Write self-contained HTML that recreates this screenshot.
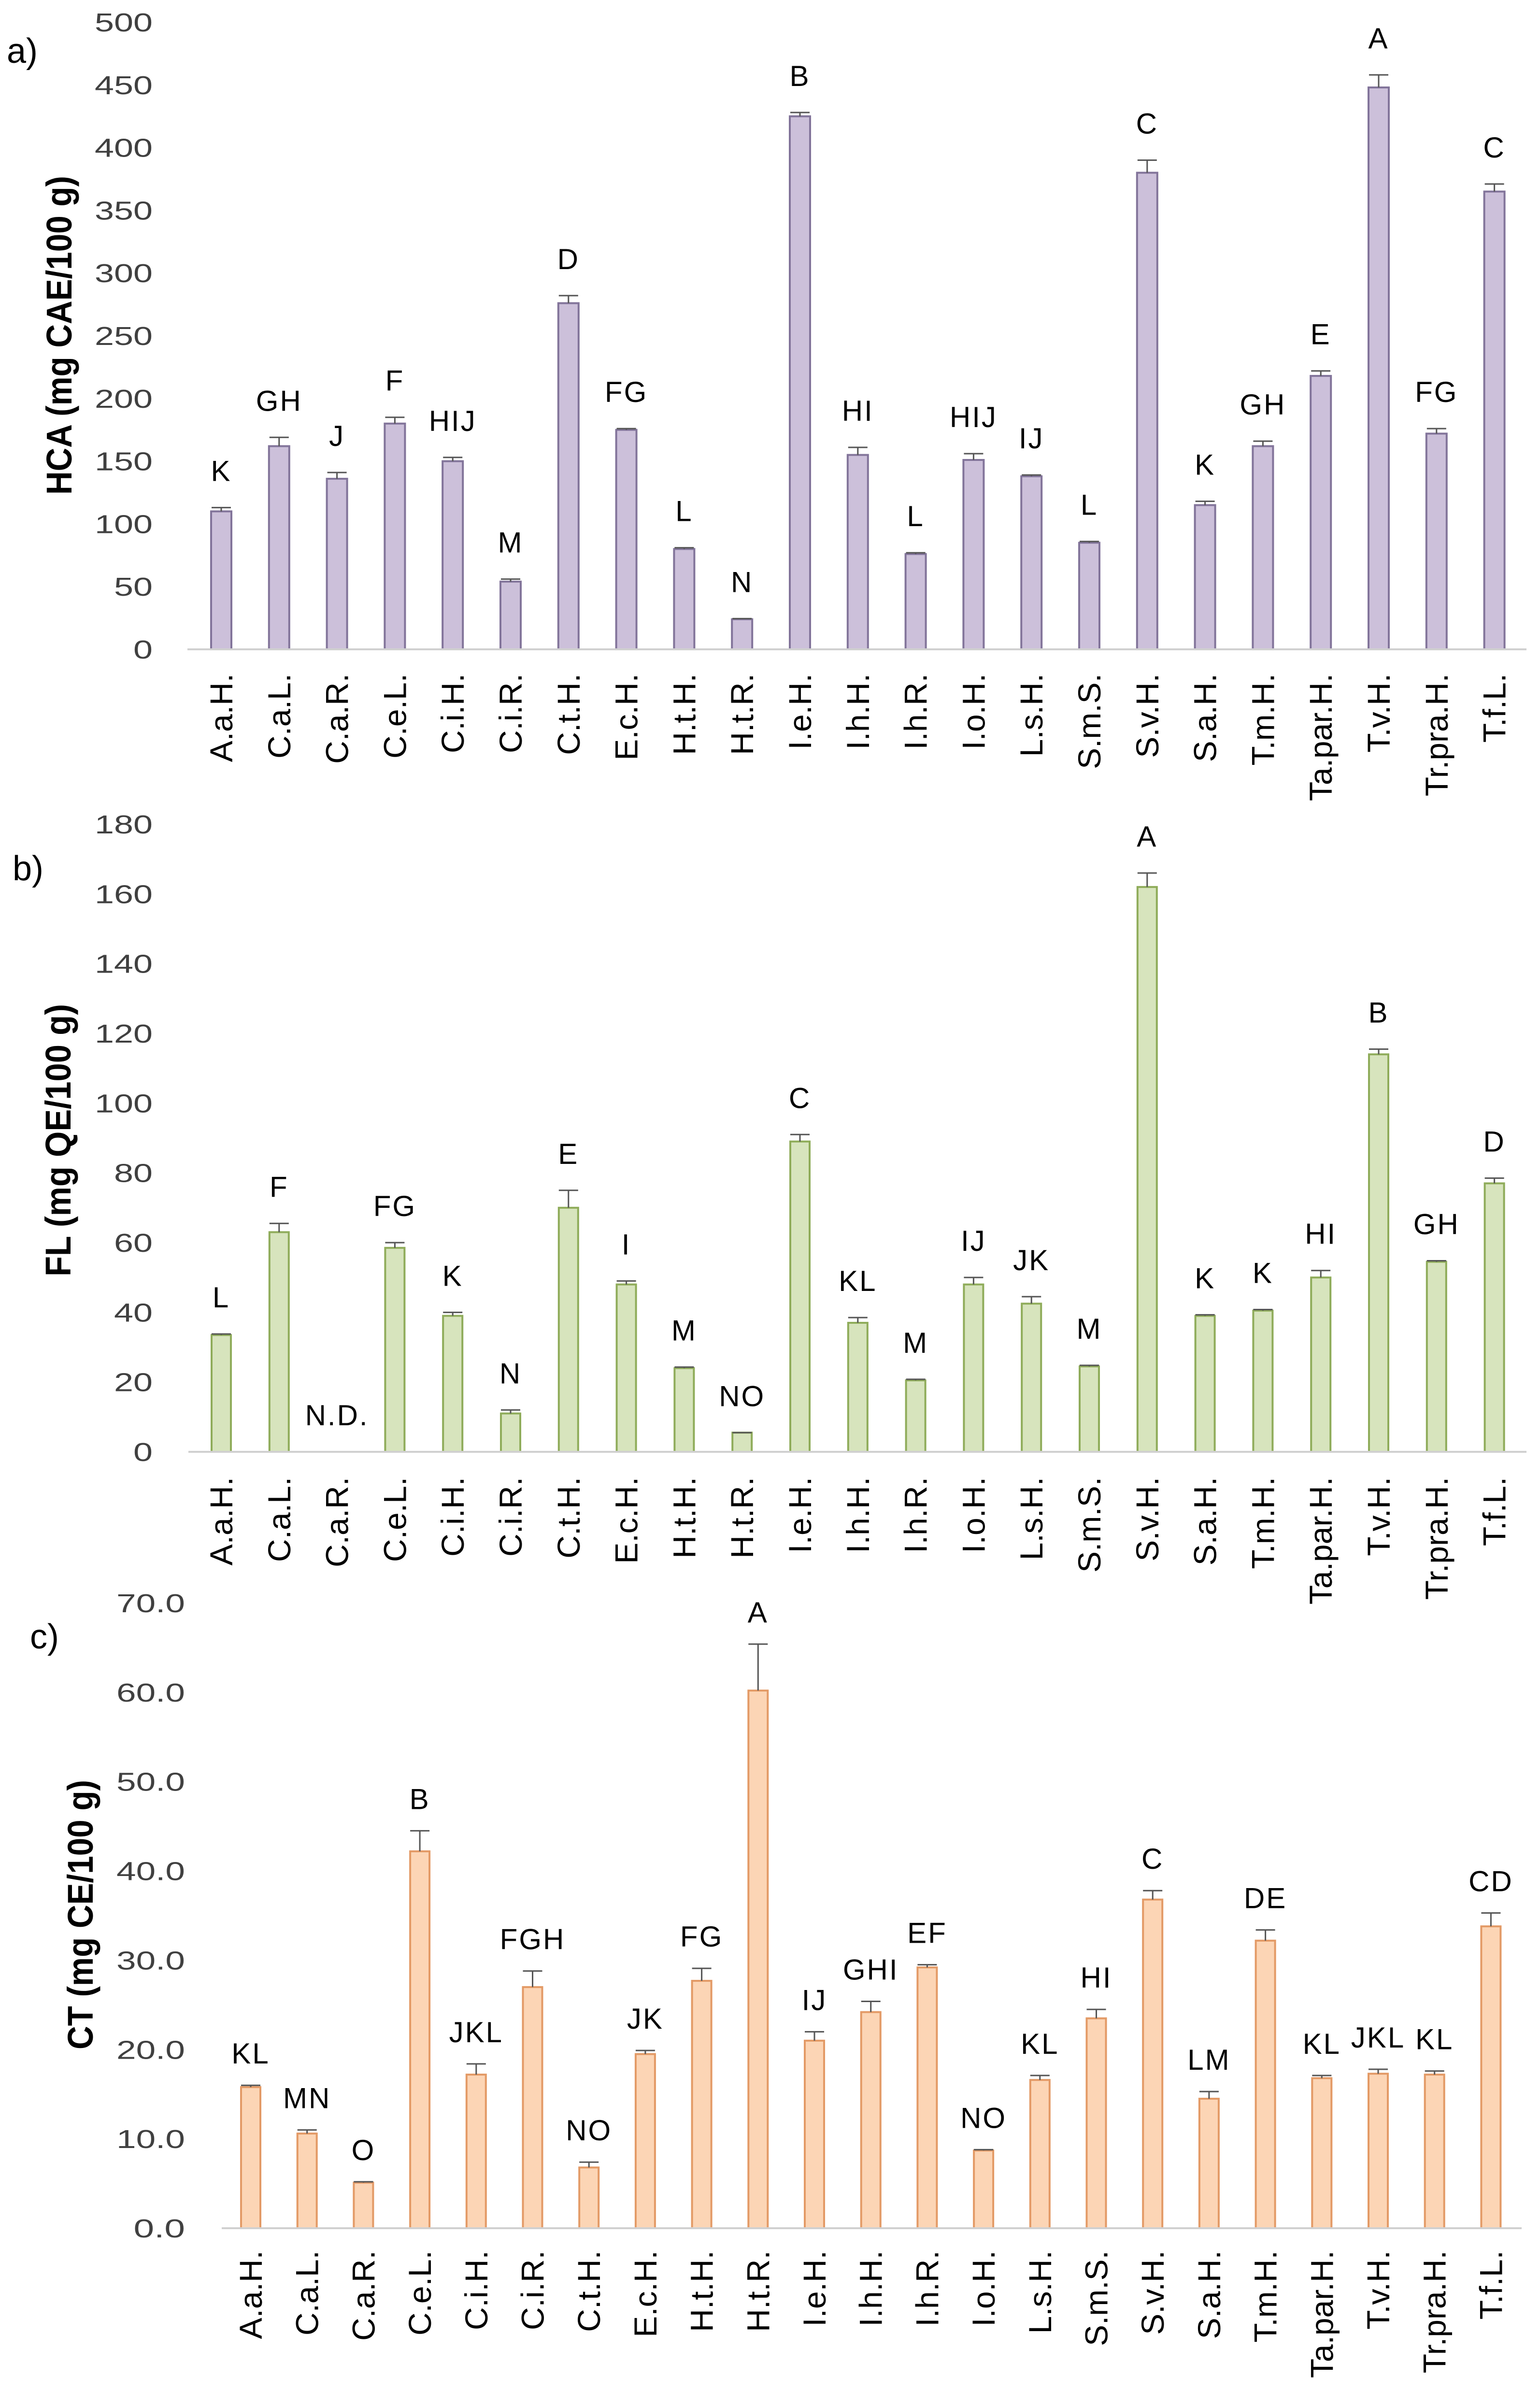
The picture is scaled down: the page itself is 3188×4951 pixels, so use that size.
<!DOCTYPE html>
<html><head><meta charset="utf-8">
<style>
html,body{margin:0;padding:0;background:#fff;}
svg{display:block;font-family:"Liberation Sans",sans-serif;}
</style></head>
<body>
<svg id="fig" width="3188" height="4951" viewBox="0 0 3188 4951" xmlns="http://www.w3.org/2000/svg"></svg>
<script>
const categories = ["A.a.H.","C.a.L.","C.a.R.","C.e.L.","C.i.H.","C.i.R.","C.t.H.","E.c.H.","H.t.H.","H.t.R.","I.e.H.","I.h.H.","I.h.R.","I.o.H.","L.s.H.","S.m.S.","S.v.H.","S.a.H.","T.m.H.","Ta.par.H.","T.v.H.","Tr.pra.H.","T.f.L."];
const hcaValues = [110,162,136,180,150,54,276,175,80,24,425,155,76,151,138,85,380,115,162,218,448,172,365];
const hcaErrors = [3,7,5,5,3,2,6,1,1,0.5,3,6,1,5,1,1,10,3,4,4,10,4,6];
const hcaLetters = ["K","GH","J","F","HIJ","M","D","FG","L","N","B","HI","L","HIJ","IJ","L","C","K","GH","E","A","FG","C"];
const hcaTicks = ["0","50","100","150","200","250","300","350","400","450","500"];
const flValues = [33.5,63,0,58.5,39,11,70,48,24,5.5,89,37,20.5,48,42.5,24.5,162,39,40.5,50,114,54.5,77];
const flErrors = [0.3,2.5,0,1.5,1,1,5,1,0.3,0,2,1.5,0.3,2,2,0.3,4,0.3,0.3,2,1.5,0.3,1.5];
const flLetters = ["L","F","N.D.","FG","K","N","E","I","M","NO","C","KL","M","IJ","JK","M","A","K","K","HI","B","GH","D"];
const flTicks = ["0","20","40","60","80","100","120","140","160","180"];
const ctValues = [15.8,10.6,5.1,42.2,17.2,27.0,6.8,19.5,27.7,60.2,21.0,24.2,29.2,8.7,16.6,23.5,36.8,14.5,32.2,16.8,17.3,17.2,33.8];
const ctErrors = [0.2,0.4,0.1,2.3,1.2,1.8,0.6,0.4,1.4,5.2,1.0,1.2,0.3,0.1,0.5,1.0,1.0,0.8,1.2,0.3,0.5,0.4,1.5];
const ctLetters = ["KL","MN","O","B","JKL","FGH","NO","JK","FG","A","IJ","GHI","EF","NO","KL","HI","C","LM","DE","KL","JKL","KL","CD"];
const ctTicks = ["0.0","10.0","20.0","30.0","40.0","50.0","60.0","70.0"];

const NS="http://www.w3.org/2000/svg";
const svg=document.getElementById('fig');
function mk(tag,attrs,parent){const e=document.createElementNS(NS,tag);for(const k in attrs)e.setAttribute(k,attrs[k]);(parent||svg).appendChild(e);return e;}

function panel(cfg){
  const g=mk('g',{});
  
  
  const yScale=v=>cfg.y0-(v/cfg.max)*(cfg.y0-cfg.yTop);
  const xScale=i=>cfg.x0+i*cfg.step;
  const pl=mk('text',{x:cfg.plx,y:cfg.ply,'font-size':72,fill:'#000'},g);
  pl.textContent=cfg.panel;
  
  
  cfg.ticks.forEach((t,i)=>{
    const v=cfg.max*i/(cfg.ticks.length-1);
    const tx=mk('text',{x:cfg.tickRight,y:yScale(v)+19,'font-size':54,'text-anchor':'end',fill:'#404040',textLength:t.length*cfg.charW,lengthAdjust:'spacingAndGlyphs'},g);
    tx.textContent=t;
    
    
  });
  const yt=mk('text',{x:0,y:0,'font-size':74,'font-weight':'bold','font-family':'"Liberation Sans Narrow","Liberation Sans",sans-serif','text-anchor':'middle',fill:'#000',transform:`translate(${cfg.titleX},${cfg.titleY}) rotate(-90)`,textLength:cfg.titleLen,lengthAdjust:'spacingAndGlyphs'},g);
  yt.textContent=cfg.title;
  
  
  cfg.values.forEach((v,i)=>{
    const cx=xScale(i);
    if(v>0){
      const r=mk('rect',{x:cx-cfg.bw/2,y:yScale(v),width:cfg.bw,height:cfg.y0-yScale(v),fill:cfg.fill,stroke:cfg.stroke,'stroke-width':4},g);
      
      
      const e=cfg.errors[i];
      const et=yScale(v+e);
      const el=mk('path',{d:`M${cx},${yScale(v)}V${et}M${cx-20},${et}H${cx+20}`,stroke:'#555','stroke-width':3,fill:'none'},g);
      
      
    }
    const lt=mk('text',{x:cx,y:yScale(v+cfg.errors[i])-cfg.gap,'font-size':60,'text-anchor':'middle',fill:'#000','letter-spacing':3},g);
    lt.textContent=cfg.letters[i];
    
    
    const cl=mk('text',{x:0,y:0,'font-size':66,'font-family':'"Liberation Sans",sans-serif','text-anchor':'end',fill:'#000',transform:`translate(${cx+23},${cfg.y0+cfg.catGap}) rotate(-90)`},g);
    cl.textContent=categories[i];
    
    
  });
  const ax=mk('line',{x1:cfg.axStart,x2:cfg.axEnd,y1:cfg.y0,y2:cfg.y0,stroke:'#d0d0d0','stroke-width':4},g);
  
  
}

panel({id:'hca',panel:'a)',plx:14,ply:130,values:hcaValues,errors:hcaErrors,letters:hcaLetters,ticks:hcaTicks,max:500,y0:1344,yTop:46,x0:458,step:119.8,bw:42,fill:'#ccc0da',stroke:'#82749a',tickRight:316,charW:40,title:'HCA (mg CAE/100 g)',titleX:148,titleY:694,titleLen:660,gap:55,catGap:50,axStart:388,axEnd:3160});
panel({id:'fl',panel:'b)',plx:26,ply:1822,values:flValues,errors:flErrors,letters:flLetters,ticks:flTicks,max:180,y0:3005,yTop:1706,x0:458,step:119.8,bw:40,fill:'#d7e4bd',stroke:'#8fac5a',tickRight:316,charW:40,title:'FL (mg QE/100 g)',titleX:146,titleY:2360,titleLen:564,gap:55,catGap:52,axStart:390,axEnd:3160});
panel({id:'ct',panel:'c)',plx:62,ply:3412,values:ctValues,errors:ctErrors,letters:ctLetters,ticks:ctTicks,max:70,y0:4612,yTop:3318,x0:519,step:116.7,bw:40,fill:'#fcd5b5',stroke:'#e39a66',tickRight:383,charW:35.5,title:'CT (mg CE/100 g)',titleX:192,titleY:3963,titleLen:558,gap:45,catGap:46,axStart:459,axEnd:3150});
</script>
</body></html>
